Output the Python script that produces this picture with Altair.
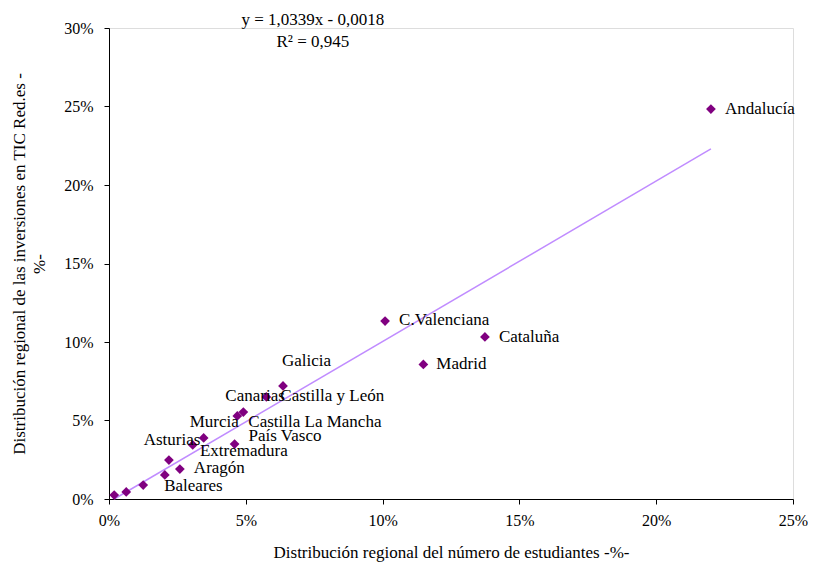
import altair as alt
import pandas as pd

# Data (fractions)
regions = ["Andalucía", "C.Valenciana", "Cataluña", "Madrid", "Galicia",
           "Castilla y León", "Canarias", "Castilla La Mancha", "País Vasco",
           "Murcia", "Asturias", "Extremadura", "Aragón", "Baleares",
           "Navarra", "Cantabria", "La Rioja"]
students = [0.2200, 0.1009, 0.1374, 0.1149, 0.0636,
            0.0575, 0.0491, 0.0469, 0.0459,
            0.0346, 0.0306, 0.0219, 0.0259, 0.0125,
            0.0204, 0.0063, 0.0019]
investment = [0.2484, 0.1133, 0.1032, 0.0857, 0.0720,
              0.0650, 0.0554, 0.0529, 0.0350,
              0.0389, 0.0344, 0.0248, 0.0191, 0.0089,
              0.0153, 0.0045, 0.0025]
x_ticks = [0, 0.05, 0.10, 0.15, 0.20, 0.25]
y_ticks = [0, 0.05, 0.10, 0.15, 0.20, 0.25, 0.30]
eq_lines = ["y = 1,0339x - 0,0018", "R² = 0,945"]

df = pd.DataFrame({"region": regions, "x": students, "y": investment})

FONT = "Liberation Serif"

# label offsets (pixels) relative to each point
label_offsets = {
    "Andalucía": (14, 0), "C.Valenciana": (14, -1), "Cataluña": (14, 0),
    "Madrid": (13, 0), "Galicia": (-1, -25), "Castilla y León": (14, -1),
    "Canarias": (-18, -16), "Castilla La Mancha": (11, 6),
    "País Vasco": (14, -8), "Murcia": (-14, -16), "Asturias": (-49, -5),
    "Extremadura": (31, -9), "Aragón": (14, -1), "Baleares": (21, 1),
}

xs = alt.Scale(domain=[0, 0.25], nice=False, zero=True)
ys = alt.Scale(domain=[0, 0.30], nice=False, zero=True)

base = alt.Chart(df)

x_enc = alt.X("x:Q", scale=xs, axis=alt.Axis(
    values=x_ticks, format=".0%", grid=False, domainColor="black",
    tickColor="black", tickSize=5, labelFont=FONT, labelFontSize=16,
    labelColor="black", labelPadding=8, labelFlush=False,
    titleFont=FONT, titleFontSize=17,
    titleFontWeight="normal", titleColor="black", titlePadding=16,
    title="Distribución regional del número de estudiantes -%-"))
y_enc = alt.Y("y:Q", scale=ys, axis=alt.Axis(
    values=y_ticks, format=".0%", grid=False, domainColor="black",
    tickColor="black", tickSize=5, labelFont=FONT, labelFontSize=16,
    labelColor="black", labelPadding=11, labelFlush=False,
    titleFont=FONT, titleFontSize=17, titleLineHeight=20,
    titleFontWeight="normal", titleColor="black", titlePadding=15,
    title=["Distribución regional de las inversiones en TIC Red.es -", "%-"]))

trend = base.transform_regression("x", "y").mark_line(
    color="#C08CFF", strokeWidth=1.5).encode(x=x_enc, y=y_enc)

points = base.mark_point(shape="diamond", filled=True, size=95,
                         color="#800080", opacity=1).encode(x="x:Q", y="y:Q")

layers = [trend, points]
for name, (dx, dy) in label_offsets.items():
    layers.append(
        base.transform_filter(alt.datum.region == name).mark_text(
            align="left", baseline="middle", dx=dx, dy=dy,
            font=FONT, fontSize=17, color="black"
        ).encode(x="x:Q", y="y:Q", text="region:N")
    )

eq = alt.Chart(pd.DataFrame({"t": ["\n".join(eq_lines)]})).mark_text(
    align="center", baseline="top", font=FONT, fontSize=17, color="black",
    lineHeight=22, lineBreak="\n"
).encode(x=alt.datum(0.0745), y=alt.datum(0.3099), text="t:N")
layers.append(eq)

chart = alt.layer(*layers).properties(
    width=684, height=471,
    autosize=alt.AutoSizeParams(type="none"),
    padding={"left": 101, "top": 20, "right": 15, "bottom": 63},
).configure_view(stroke=None).configure(background="white")

chart.save("out.html", embed_options={"renderer": "svg", "actions": False})
